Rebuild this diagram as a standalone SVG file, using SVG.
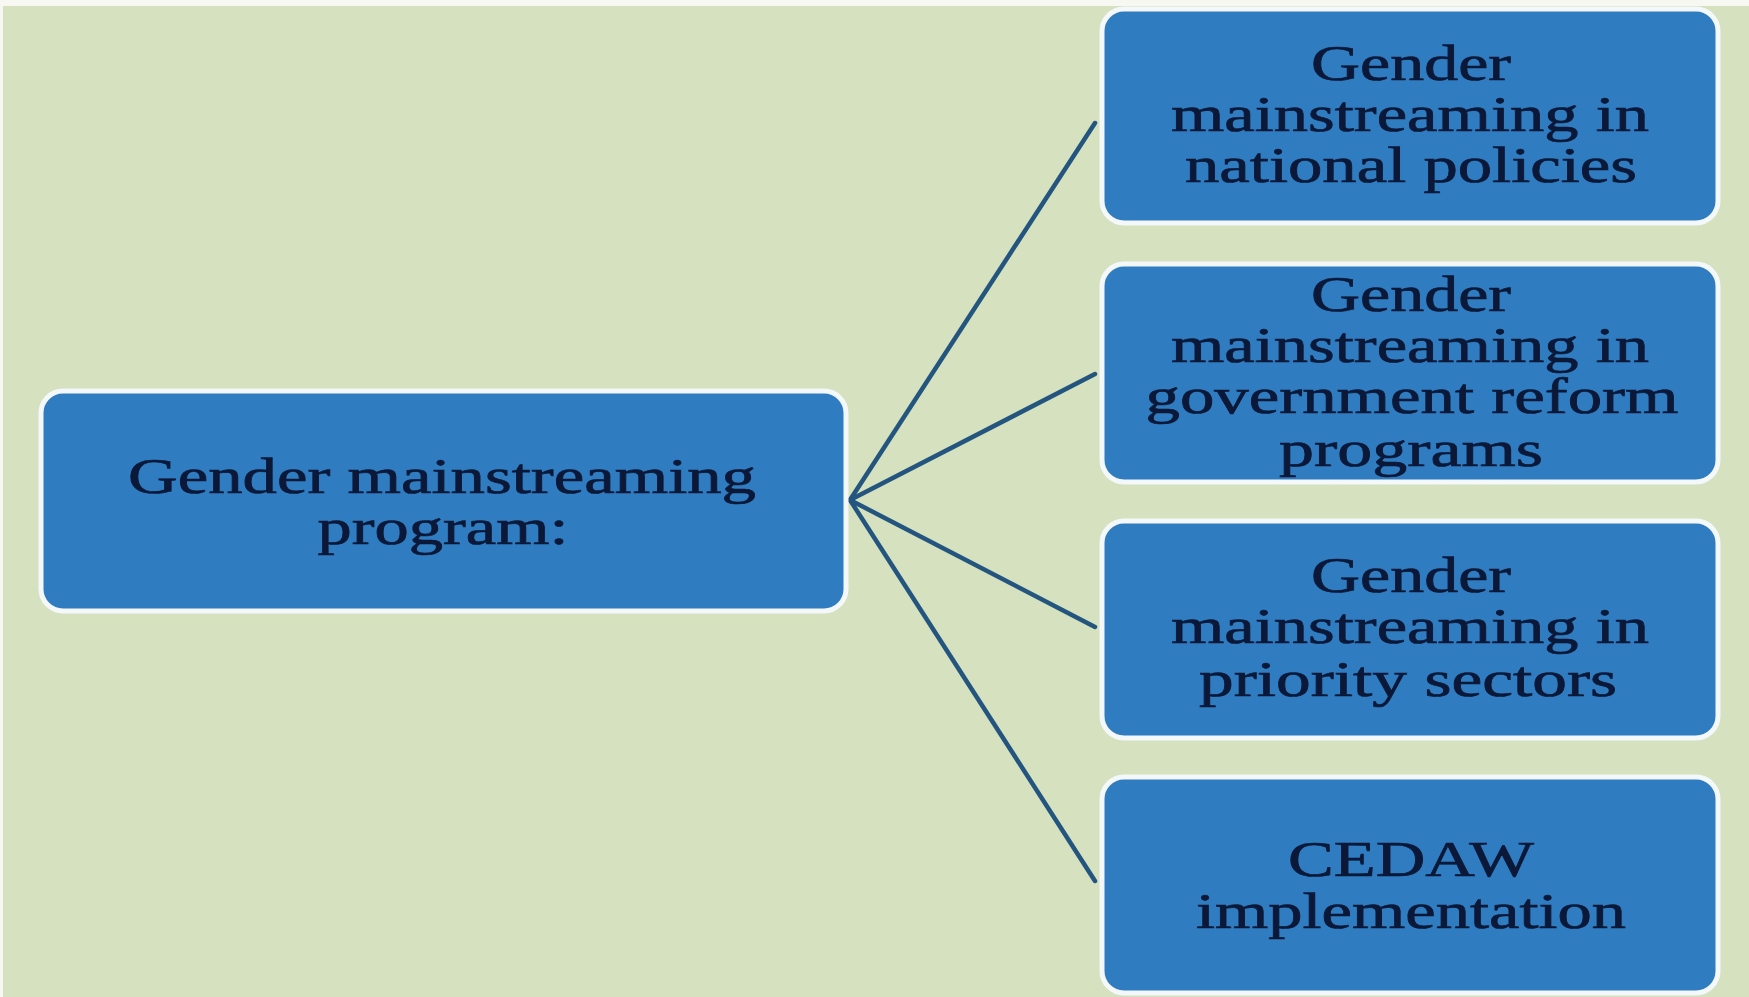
<svg xmlns="http://www.w3.org/2000/svg" width="1749" height="997" viewBox="0 0 1749 997">
<style>
.box{fill:#2f7dc0;stroke:#f4f8fb;stroke-width:5}
.t{font-family:"Liberation Serif","Times New Roman",serif;font-size:50px;fill:#0b1838;stroke:#0b1838;stroke-width:0.7;text-anchor:middle}
.c{stroke:#24557f;stroke-width:4.5;fill:none;stroke-linecap:round}
</style>
<rect x="0" y="0" width="1749" height="997" fill="#f7f8f2"/>
<rect x="3" y="6" width="1746" height="991" fill="#d5e1bf"/>
<g id="connectors">
<line class="c" x1="850" y1="500" x2="1095" y2="123"/>
<line class="c" x1="850" y1="500" x2="1095" y2="374"/>
<line class="c" x1="850" y1="500" x2="1095" y2="627"/>
<line class="c" x1="850" y1="500" x2="1095" y2="881"/>
</g>
<g id="main">
<rect class="box" x="41" y="391" width="805" height="220" rx="22"/>
<text class="t" x="442" y="493" textLength="628" lengthAdjust="spacingAndGlyphs">Gender mainstreaming</text>
<text class="t" x="443" y="544" textLength="251" lengthAdjust="spacingAndGlyphs">program:</text>
</g>
<g id="n1">
<rect class="box" x="1102" y="9" width="616" height="214" rx="22"/>
<text class="t" x="1411" y="80" textLength="200" lengthAdjust="spacingAndGlyphs">Gender</text>
<text class="t" x="1410" y="131" textLength="478" lengthAdjust="spacingAndGlyphs">mainstreaming in</text>
<text class="t" x="1411" y="182" textLength="452" lengthAdjust="spacingAndGlyphs">national policies</text>
</g>
<g id="n2">
<rect class="box" x="1102" y="264" width="616" height="218" rx="22"/>
<text class="t" x="1411" y="311" textLength="200" lengthAdjust="spacingAndGlyphs">Gender</text>
<text class="t" x="1410" y="362" textLength="478" lengthAdjust="spacingAndGlyphs">mainstreaming in</text>
<text class="t" x="1412" y="413" textLength="533" lengthAdjust="spacingAndGlyphs">government reform</text>
<text class="t" x="1411" y="466" textLength="264" lengthAdjust="spacingAndGlyphs">programs</text>
</g>
<g id="n3">
<rect class="box" x="1102" y="521" width="616" height="217" rx="22"/>
<text class="t" x="1411" y="592" textLength="200" lengthAdjust="spacingAndGlyphs">Gender</text>
<text class="t" x="1410" y="643" textLength="478" lengthAdjust="spacingAndGlyphs">mainstreaming in</text>
<text class="t" x="1408" y="696" textLength="418" lengthAdjust="spacingAndGlyphs">priority sectors</text>
</g>
<g id="n4">
<rect class="box" x="1102" y="777" width="616" height="216" rx="22"/>
<text class="t" x="1411" y="876" textLength="246" lengthAdjust="spacingAndGlyphs">CEDAW</text>
<text class="t" x="1411" y="928" textLength="430" lengthAdjust="spacingAndGlyphs">implementation</text>
</g>
</svg>
